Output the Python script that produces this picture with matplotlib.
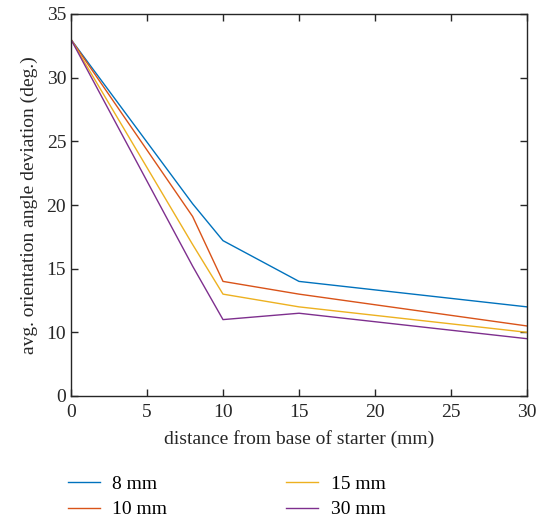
import matplotlib
matplotlib.use("Agg")
import matplotlib.pyplot as plt

plt.rcParams['font.family'] = ['Liberation Serif', 'DejaVu Serif']

distance = [0, 8, 10, 15, 30]
series_labels = ["8 mm", "10 mm", "15 mm", "30 mm"]
dev_8mm = [33.0, 20.1, 17.2, 14.0, 12.0]
dev_10mm = [33.0, 19.1, 14.0, 13.0, 10.5]
dev_15mm = [33.0, 16.9, 13.0, 12.0, 10.0]
dev_30mm = [33.0, 15.2, 11.0, 11.5, 9.5]
colors = ["#0072BD", "#D95319", "#EDB120", "#7E2F8E"]
yticks = [5, 10, 15, 20, 25, 30, 35]
ytick_labels = ["0", "10", "15", "20", "25", "30", "35"]
xticks = [0, 5, 10, 15, 20, 25, 30]

fig = plt.figure(figsize=(5.44, 5.2), dpi=100)
ax = fig.add_axes([71/544, 1-396/520, (527-71)/544, (396-14)/520])

for ys, lab, c in zip([dev_8mm, dev_10mm, dev_15mm, dev_30mm], series_labels, colors):
    ax.plot(distance, ys, color=c, lw=1.0, label=lab)

ax.set_xlim(0, 30)
ax.set_ylim(5, 35)
ax.set_xticks(xticks)
ax.set_xticklabels([str(t) for t in xticks])
ax.set_yticks(yticks)
ax.set_yticklabels(ytick_labels)
ax.tick_params(direction='in', top=True, right=True, length=5, width=1, colors='#262626', labelsize=14, labelcolor='#262626')
ax.tick_params(axis='x', pad=6)
for s in ax.spines.values():
    s.set_color('#262626')
    s.set_linewidth(1.0)

ax.set_xlabel("distance from base of starter (mm)", fontsize=14, color='#262626', labelpad=6)
ax.set_ylabel("avg. orientation angle deviation (deg.)", fontsize=14, color='#262626', labelpad=6)

fig.legend(loc='upper left', bbox_to_anchor=(50/544, 1-458/520), ncol=2, frameon=False,
           fontsize=14, handlelength=1.65, columnspacing=6.1, labelspacing=0.4, handletextpad=0.65)

fig.savefig("out.png", dpi=100)
